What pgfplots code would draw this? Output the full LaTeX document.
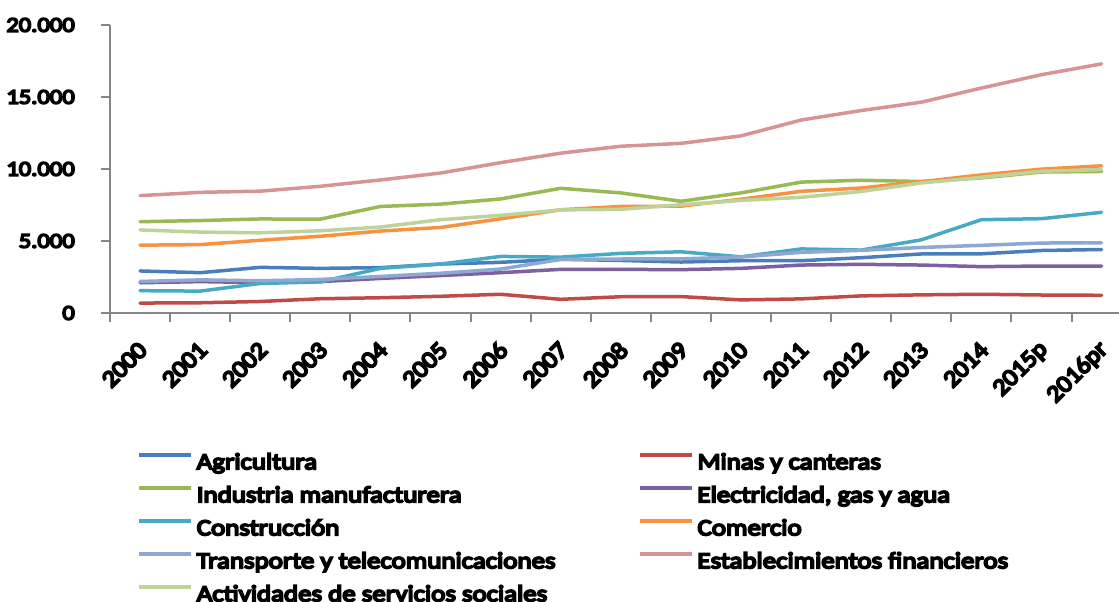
\documentclass[border=0pt]{standalone}
\usepackage{pgfplots}
\pgfplotsset{compat=1.18}
\usepackage{fontspec}
\setmainfont{Carlito}
\newfontfamily\chartfont{Carlito}[FakeStretch=1.17, FakeBold=8]
\newfontfamily\xlabfont{Carlito}[FakeStretch=1.08, FakeBold=8]
\definecolor{axisgray}{HTML}{868686}
\definecolor{cAgr}{HTML}{4A7EBB}
\definecolor{cMin}{HTML}{BE4B48}
\definecolor{cInd}{HTML}{98B954}
\definecolor{cEle}{HTML}{7D60A0}
\definecolor{cCon}{HTML}{46AAC5}
\definecolor{cCom}{HTML}{F69240}
\definecolor{cTra}{HTML}{8FA8D2}
\definecolor{cEst}{HTML}{D69594}
\definecolor{cAct}{HTML}{BDD39A}
\pgfplotstableread{
x Agr Min Ind Ele Con Com Tra Est Act
0 2920 690 6340 2100 1550 4710 2190 8150 5770
1 2800 710 6420 2180 1520 4750 2300 8380 5620
2 3170 800 6530 2110 2050 5050 2240 8460 5570
3 3100 990 6520 2180 2160 5330 2330 8800 5710
4 3150 1060 7400 2400 3100 5690 2540 9240 5970
5 3400 1160 7560 2600 3400 5940 2760 9720 6480
6 3520 1300 7920 2800 3930 6540 3050 10440 6780
7 3730 950 8660 3030 3880 7170 3720 11100 7160
8 3650 1130 8340 3030 4140 7400 3750 11580 7200
9 3540 1140 7760 3010 4250 7420 3760 11780 7520
10 3630 910 8340 3100 3900 7900 3890 12300 7820
11 3630 980 9090 3330 4450 8450 4210 13400 8030
12 3840 1190 9220 3380 4370 8680 4350 14060 8440
13 4100 1260 9130 3330 5080 9120 4550 14640 9030
14 4110 1300 9380 3220 6480 9590 4700 15620 9420
15 4340 1250 9790 3260 6550 9990 4860 16550 9840
16 4410 1230 9830 3260 6990 10220 4870 17300 9960
}\datatable
\begin{document}
\begin{tikzpicture}
\begin{axis}[name=ax, at={(0,0)}, anchor=south west,
  scale only axis, width=1009pt, height=288pt,
  xmin=-0.5, xmax=16.29, ymin=0, ymax=20000,
  axis x line*=bottom, axis y line*=left,
  axis line style={draw=axisgray, line width=2pt},
  tick style={draw=axisgray, line width=2pt},
  tick align=outside, major tick length=9pt,
  ytick={0,5000,10000,15000,20000},
  scaled y ticks=false,
  /pgf/number format/.cd, 1000 sep={.}, assume math mode=true, /pgfplots/.cd,
  tick label style={font=\chartfont\fontsize{21}{25}\selectfont},
  yticklabel style={anchor=east, inner sep=0pt, xshift=-26pt},
  xtick={-0.5,0.5,...,16.5}, xticklabels={},
  extra x ticks={0,1,...,16},
  extra x tick labels={2000,2001,2002,2003,2004,2005,2006,2007,2008,2009,2010,2011,2012,2013,2014,2015p,2016pr},
  extra x tick style={major tick length=0pt, tick label style={font=\xlabfont\fontsize{24}{28}\selectfont, yshift=-33pt, xshift=3pt, rotate=45, anchor=east, inner sep=0pt}},
  every axis plot/.append style={line width=3.5pt, line cap=round, line join=round, mark=none},
  legend columns=2,
  legend cell align=left,
  legend style={at={(axis description cs:0.02676,-0.4861)}, anchor=north west, draw=none, fill=none,
    inner sep=0pt, outer sep=0pt, row sep=14.75pt,
    font=\chartfont\fontsize{23}{27}\selectfont,
    nodes={inner sep=0pt, text height=16pt, text depth=2pt}},
  legend image code/.code={\draw[#1, line cap=butt] (0pt,7.5pt) -- (52pt,7.5pt); \path[draw=none] (0pt,7.5pt) -- (58pt,7.5pt);},
]
\addplot[cAgr] table[x=x,y=Agr]{\datatable};
\addlegendentry{\makebox[441pt][l]{Agricultura}}
\addplot[cMin] table[x=x,y=Min]{\datatable};
\addlegendentry{Minas y canteras}
\addplot[cInd] table[x=x,y=Ind]{\datatable};
\addlegendentry{\makebox[441pt][l]{Industria manufacturera}}
\addplot[cEle] table[x=x,y=Ele]{\datatable};
\addlegendentry{Electricidad, gas y agua}
\addplot[cCon] table[x=x,y=Con]{\datatable};
\addlegendentry{\makebox[441pt][l]{Construcción}}
\addplot[cCom] table[x=x,y=Com]{\datatable};
\addlegendentry{Comercio}
\addplot[cTra] table[x=x,y=Tra]{\datatable};
\addlegendentry{\makebox[441pt][l]{Transporte y telecomunicaciones}}
\addplot[cEst] table[x=x,y=Est]{\datatable};
\addlegendentry{Establecimientos financieros}
\addplot[cAct] table[x=x,y=Act]{\datatable};
\addlegendentry{\makebox[441pt][l]{Actividades de servicios sociales}}
\end{axis}
\pgfresetboundingbox
\path (ax.south west) ++(-110pt,-289pt) rectangle ++(1119pt,602pt);
\end{tikzpicture}
\end{document}
